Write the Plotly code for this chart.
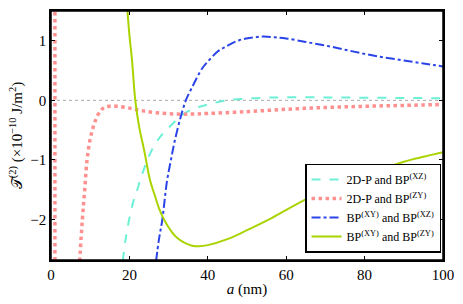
import plotly.graph_objects as go

# 2D-P and BP(XZ)
cyan_x = [18.3, 19, 20, 21, 22, 22.8, 24.3, 26, 28, 30, 33.4, 36, 40, 45, 50, 55, 60, 70, 80, 90, 100]
cyan_y = [-2.7, -2.35, -1.98, -1.7, -1.5, -1.33, -1.05, -0.8, -0.6, -0.46, -0.25, -0.15, -0.07, 0.0, 0.03, 0.045, 0.05, 0.05, 0.045, 0.04, 0.035]

# 2D-P and BP(ZY): vertical branch near a=1
red_branch_x = [1.0, 1.0]
red_branch_y = [1.6, -2.8]
# 2D-P and BP(ZY): main curve
red_x = [7.3, 8.0, 8.6, 9.2, 10, 11, 12, 13, 14, 15.5, 17, 20, 23, 27, 32, 36, 40, 50, 60, 70, 80, 90, 100]
red_y = [-2.7, -2.0, -1.5, -1.0, -0.65, -0.4, -0.24, -0.15, -0.11, -0.1, -0.1, -0.13, -0.17, -0.21, -0.23, -0.23, -0.22, -0.19, -0.15, -0.12, -0.1, -0.085, -0.07]

# BP(XY) and BP(XZ)
blue_x = [26.8, 27.5, 28.4, 29.6, 30.6, 31.5, 33, 34.4, 36, 38.5, 40, 42.5, 44.5, 48, 51, 54, 57, 60, 65, 70, 75, 80, 85, 90, 95, 100]
blue_y = [-2.7, -2.35, -2.0, -1.35, -1.0, -0.7, -0.3, 0.0, 0.22, 0.53, 0.65, 0.82, 0.9, 1.01, 1.05, 1.07, 1.06, 1.04, 0.98, 0.92, 0.85, 0.78, 0.72, 0.67, 0.62, 0.57]

# BP(XY) and BP(ZY)
green_x = [19.5, 20, 20.7, 21.5, 22.5, 23.8, 25.3, 26.5, 27.6, 29, 30.5, 32, 34, 36, 37.7, 40, 45, 50, 55, 60.5, 70, 80, 83.3, 90, 100]
green_y = [1.5, 1.1, 0.65, 0.0, -0.45, -0.85, -1.35, -1.6, -1.82, -2.02, -2.18, -2.3, -2.39, -2.44, -2.45, -2.43, -2.33, -2.18, -2.02, -1.82, -1.5, -1.24, -1.18, -1.03, -0.87]

zero_x = [0, 100]
zero_y = [0, 0]

x_ticks = [0, 20, 40, 60, 80, 100]
y_ticks = [-2, -1, 0, 1]

red_line = dict(color="#ff9090", width=3.5, dash="dot")

fig = go.Figure()
fig.add_trace(go.Scatter(x=zero_x, y=zero_y, mode="lines", line=dict(color="#aaaaaa", width=1, dash="dot"),
                         showlegend=False, hoverinfo="skip"))
fig.add_trace(go.Scatter(x=red_branch_x, y=red_branch_y, mode="lines", line=red_line,
                         showlegend=False, hoverinfo="skip"))
fig.add_trace(go.Scatter(x=cyan_x, y=cyan_y, mode="lines", line=dict(color="#6cf0d6", width=2, dash="dash", shape="spline"),
                         name="2D-P and BP<sup>(XZ)</sup>"))
fig.add_trace(go.Scatter(x=red_x, y=red_y, mode="lines", line=dict(**red_line, shape="spline"),
                         name="2D-P and BP<sup>(ZY)</sup>"))
fig.add_trace(go.Scatter(x=blue_x, y=blue_y, mode="lines", line=dict(color="#2a44e8", width=2, dash="dashdot", shape="spline"),
                         name="BP<sup>(XY)</sup> and BP<sup>(XZ)</sup>"))
fig.add_trace(go.Scatter(x=green_x, y=green_y, mode="lines", line=dict(color="#aad400", width=2, shape="spline"),
                         name="BP<sup>(XY)</sup> and BP<sup>(ZY)</sup>"))

axis_common = dict(showgrid=False, zeroline=False, showline=True, linecolor="black", linewidth=1.5, mirror="ticks",
                   ticks="inside", ticklen=4, tickcolor="black", tickfont=dict(size=15, color="black"))
fig.update_layout(
    width=463, height=304,
    margin=dict(l=51, r=17, t=9, b=44),
    paper_bgcolor="white", plot_bgcolor="white",
    font=dict(family="Liberation Serif, DejaVu Serif, serif", color="black"),
    xaxis=dict(range=[0, 100], tickvals=x_ticks,
               title=dict(text="<i>a</i> (nm)", font=dict(size=15), standoff=2), **axis_common),
    yaxis=dict(range=[-2.68, 1.5], tickvals=y_ticks,
               title=dict(text="\U0001D4AF<sup>(2)</sup> (\u00d710<sup>\u221210</sup> J/m<sup>2</sup>)", font=dict(size=15), standoff=4),
               **axis_common),
    legend=dict(x=0.995, y=0.03, xanchor="right", yanchor="bottom", bgcolor="white", bordercolor="black", borderwidth=1.5,
                font=dict(size=12), tracegroupgap=0),
    shapes=[dict(type="rect", xref="paper", yref="paper", x0=0, x1=1, y0=0, y1=1,
                 line=dict(color="black", width=1.5), layer="above")],
)
fig.write_html("out.html", config={"displayModeBar": False},
               post_script="document.body.style.margin='0';")
